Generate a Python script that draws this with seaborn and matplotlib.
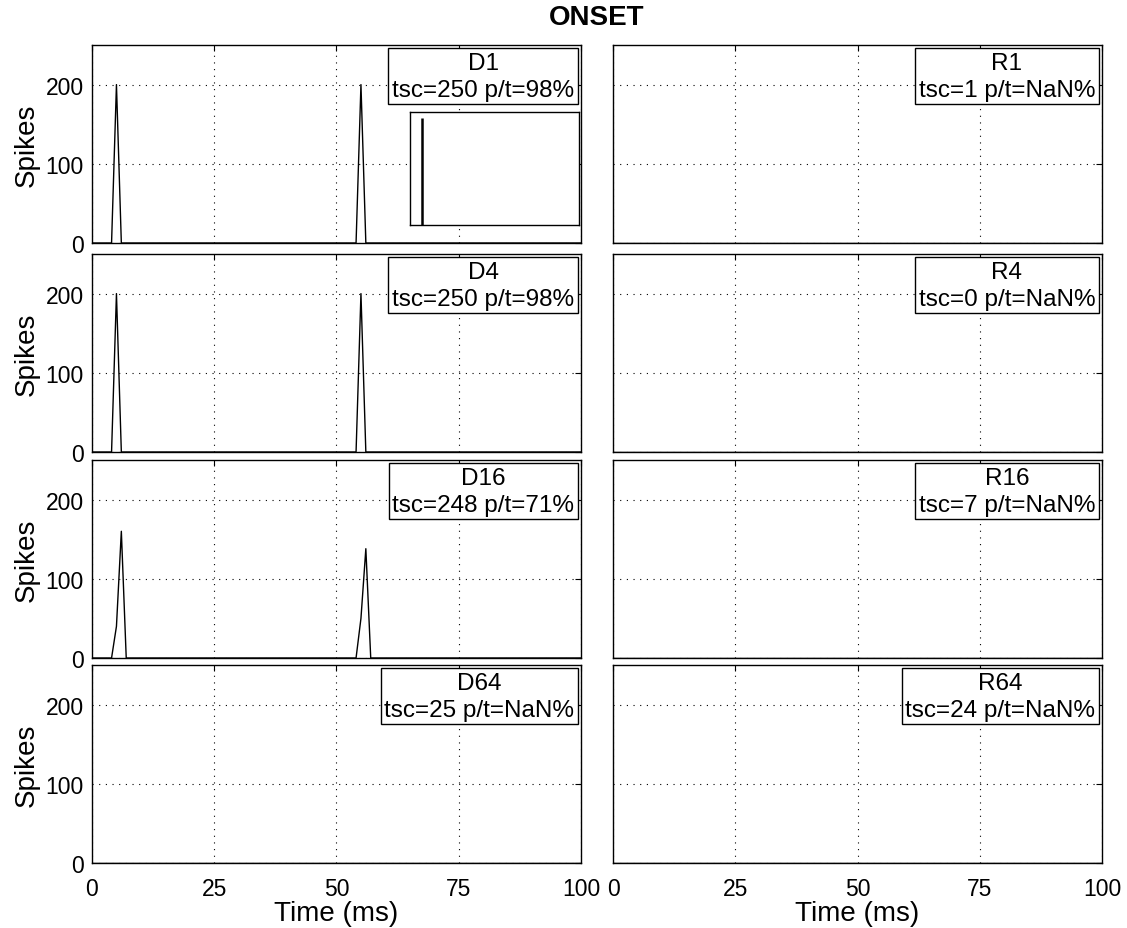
import numpy as np
import matplotlib
matplotlib.use("Agg")
import matplotlib.pyplot as plt
import seaborn as sns

# spike counts per 1 ms bin
d1_t = [0, 4, 5, 6, 54, 55, 56, 100]
d1_n = [0, 0, 200, 0, 0, 200, 0, 0]
d4_t = [0, 4, 5, 6, 54, 55, 56, 100]
d4_n = [0, 0, 200, 0, 0, 200, 0, 0]
d16_t = [0, 4, 5, 6, 7, 54, 55, 56, 57, 100]
d16_n = [0, 0, 40, 160, 0, 0, 50, 138, 0, 0]
flat_t = [0, 100]
flat_n = [0, 0]

panel_names = ["D1", "R1", "D4", "R4", "D16", "R16", "D64", "R64"]
panel_tsc = [250, 1, 250, 0, 248, 7, 25, 24]
panel_pt = ["98", "NaN", "98", "NaN", "71", "NaN", "NaN", "NaN"]
panel_t = [d1_t, flat_t, d4_t, flat_t, d16_t, flat_t, flat_t, flat_t]
panel_n = [d1_n, flat_n, d4_n, flat_n, d16_n, flat_n, flat_n, flat_n]

# small inset in D1 (single tall bin)
inset_pos = [2]
inset_val = [245]

x_ticks = [0, 25, 50, 75, 100]
y_ticks = [0, 100, 200]

sns.set_style("white")
plt.rcParams["font.family"] = ["Liberation Sans", "DejaVu Sans"]
plt.rcParams["text.color"] = "black"
plt.rcParams["axes.labelcolor"] = "black"

fig = plt.figure(figsize=(11.27, 9.29), dpi=100)
W, H = 1127, 929
lefts = [92, 613]
tops = [46, 255, 461, 666]
aw, ah = 489, 198

for i, name in enumerate(panel_names):
    row, col = divmod(i, 2)
    ax = fig.add_axes([lefts[col] / W, 1 - (tops[row] + ah) / H, aw / W, ah / H])
    sns.lineplot(x=panel_t[i], y=panel_n[i], ax=ax, color="black", lw=1.0)
    ax.set_xlim(0, 100)
    ax.set_ylim(0, 250)
    ax.set_xticks(x_ticks)
    ax.set_yticks(y_ticks)
    ax.grid(True, color="black", linestyle=(0, (1, 5)), linewidth=0.8)
    ax.tick_params(direction="in", length=4, width=0.8, top=True, right=True,
                   labelsize=16.5, colors="black")
    ax.tick_params(axis="x", pad=10)
    ax.tick_params(axis="y", pad=6)
    for s in ax.spines.values():
        s.set_color("black")
        s.set_linewidth(1.0)
    if row < 3:
        ax.set_xticklabels([])
    else:
        ax.set_xlabel("Time (ms)", fontsize=20, labelpad=0)
    if col == 1:
        ax.set_yticklabels([])
    else:
        ax.set_ylabel("Spikes", fontsize=20, labelpad=4)
    ax.text(0.986, 0.967, f"{name}\ntsc={panel_tsc[i]} p/t={panel_pt[i]}%",
            transform=ax.transAxes, ha="right", va="top", multialignment="center",
            fontsize=17.5, linespacing=1.3, zorder=5,
            bbox=dict(boxstyle="square,pad=0.15", fc="white", ec="black", lw=1.0))
    if name == "D1":
        ins = ax.inset_axes([0.651, 0.091, 0.345, 0.571])
        ins.vlines(inset_pos, 0, inset_val, color="black", lw=1.8)
        ins.set_xlim(0, 30)
        ins.set_ylim(0, 260)
        ins.set_xticks([])
        ins.set_yticks([])
        ins.set_facecolor("white")
        for s in ins.spines.values():
            s.set_color("black")
            s.set_linewidth(1.0)

fig.text(597 / W, 1 - 18 / H, "ONSET", ha="center", va="center",
         fontsize=20, fontweight="bold")

fig.savefig("out.png", dpi=100, facecolor="white")
